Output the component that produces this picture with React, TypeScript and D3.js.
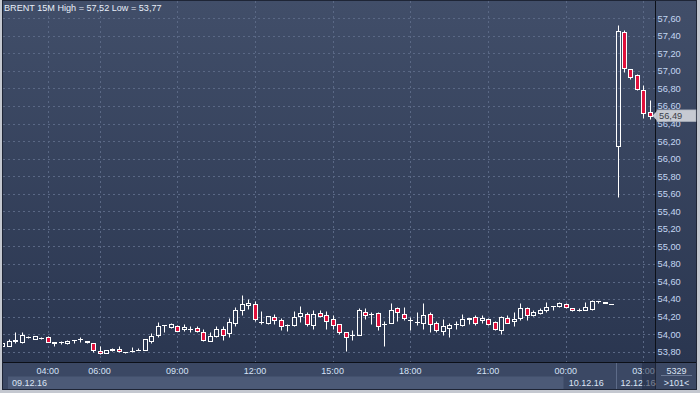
import React from 'react';
import * as d3 from 'd3';

const opens = [53.86,53.87,53.92,53.91,53.97,53.95,53.96,53.97,53.91,53.91,53.90,53.93,53.94,53.92,53.90,53.81,53.79,53.82,53.83,53.80,53.81,53.82,53.82,53.92,53.99,54.10,54.08,54.09,54.06,54.06,54.07,54.02,53.92,53.98,54.06,54.01,54.13,54.28,54.33,54.34,54.14,54.13,54.19,54.16,54.10,54.10,54.21,54.23,54.11,54.24,54.22,54.17,54.12,54.02,53.99,53.99,54.25,54.23,54.24,54.12,54.13,54.30,54.23,54.16,54.14,54.13,54.23,54.13,54.04,54.07,54.12,54.10,54.17,54.19,54.16,54.17,54.14,54.05,54.18,54.15,54.18,54.30,54.22,54.24,54.27,54.32,54.32,54.34,54.30,54.28,54.28,54.29,54.38,54.37,54.34,56.14,57.44,57.02,56.95,56.78,56.53];
const highs = [53.91,53.94,54.02,54.02,53.98,53.98,53.97,53.98,53.91,53.92,53.93,53.93,53.97,53.92,53.90,53.86,53.82,53.84,53.86,53.80,53.85,53.84,53.94,54.01,54.14,54.11,54.13,54.10,54.12,54.09,54.09,54.06,54.02,54.09,54.09,54.18,54.31,54.45,54.40,54.38,54.26,54.21,54.23,54.18,54.12,54.26,54.32,54.25,54.28,54.28,54.26,54.22,54.12,54.02,54.05,54.30,54.30,54.25,54.25,54.15,54.35,54.31,54.31,54.19,54.25,54.35,54.25,54.15,54.17,54.13,54.15,54.23,54.18,54.22,54.22,54.18,54.15,54.21,54.22,54.25,54.36,54.31,54.28,54.30,54.37,54.32,54.37,54.35,54.30,54.30,54.37,54.39,54.38,54.37,54.34,57.52,57.47,57.02,56.97,56.84,56.67];
const lows = [53.85,53.86,53.90,53.90,53.96,53.95,53.95,53.91,53.86,53.89,53.89,53.90,53.91,53.90,53.80,53.77,53.79,53.81,53.80,53.78,53.80,53.82,53.82,53.90,53.97,54.03,54.07,54.04,54.04,54.03,54.03,53.92,53.92,53.97,53.93,53.97,54.09,54.22,54.29,54.15,54.12,54.12,54.12,54.05,54.04,54.09,54.14,54.09,54.06,54.19,54.06,54.06,54.00,53.81,53.93,53.99,54.17,54.12,54.05,53.87,54.13,54.15,54.16,54.05,54.11,54.06,54.02,54.02,53.99,53.97,54.06,54.09,54.12,54.10,54.13,54.10,54.05,54.00,54.13,54.09,54.16,54.16,54.21,54.23,54.25,54.27,54.31,54.30,54.26,54.26,54.28,54.28,54.35,54.35,54.34,55.56,56.99,56.91,56.78,56.46,56.45];
const closes = [53.90,53.92,53.93,53.99,53.97,53.98,53.96,53.91,53.90,53.91,53.92,53.93,53.95,53.91,53.82,53.78,53.82,53.83,53.81,53.80,53.81,53.82,53.94,53.98,54.09,54.10,54.12,54.04,54.08,54.06,54.04,53.93,53.98,54.06,53.99,54.14,54.28,54.34,54.36,54.17,54.14,54.21,54.16,54.09,54.10,54.19,54.24,54.12,54.23,54.21,54.15,54.11,54.02,53.97,53.99,54.28,54.22,54.23,54.09,54.12,54.28,54.25,54.18,54.16,54.14,54.22,54.12,54.05,54.09,54.11,54.12,54.17,54.18,54.13,54.18,54.12,54.06,54.19,54.13,54.17,54.30,54.22,54.25,54.28,54.31,54.32,54.35,54.31,54.28,54.28,54.31,54.38,54.38,54.35,54.34,57.45,57.03,56.93,56.79,56.52,56.49];

const priceTicks = [53.8,54.0,54.2,54.4,54.6,54.8,55.0,55.2,55.4,55.6,55.8,56.0,56.2,56.4,56.6,56.8,57.0,57.2,57.4,57.6];
const timeTickIdx = [7,15,27,39,51,63,75,87,99];
const timeTickLabels = ['04:00','06:00','09:00','12:00','15:00','18:00','21:00','00:00','03:00'];
const dateIdx = [0,87,95];
const dateLabels = ['09.12.16','10.12.16','12.12.16'];
const lastPrice = 56.49;
const titleText = 'BRENT 15M High = 57,52 Low = 53,77';
const barCountText = '5329';
const zoomText = '>101<';

const FONT = '"Liberation Sans", Arial, sans-serif';

export default function App() {
  const x = d3.scaleLinear().domain([0, 100]).range([2.4, 649.9]);
  const y = d3.scaleLinear().domain([53.8, 57.6]).range([351.7, 18.3]);
  const fmt = (v: number) => d3.format('.2f')(v).replace('.', ',');
  const px = (v: number) => Math.round(v) + 0.5;

  const candles = opens.map((o, i) => {
    const h = highs[i], l = lows[i], c = closes[i];
    const cx = px(x(i));
    const top = px(Math.min(y(o), y(c)));
    const bot = px(Math.max(y(o), y(c)));
    const yh = px(y(h));
    const yl = px(y(l));
    const bull = c >= o;
    return (
      <g key={i}>
        {yh < top && <line x1={cx} x2={cx} y1={yh} y2={top} stroke="#fff" strokeWidth={1} />}
        {yl > bot && <line x1={cx} x2={cx} y1={bot} y2={yl} stroke="#fff" strokeWidth={1} />}
        {bot - top < 1 ? (
          <line x1={cx - 2.5} x2={cx + 2.5} y1={top} y2={top} stroke="#fff" strokeWidth={1} />
        ) : (
          <rect x={cx - 2} y={top} width={4} height={bot - top}
            fill={bull ? 'none' : '#e0103c'} stroke="#fff" strokeWidth={1} />
        )}
      </g>
    );
  });

  const yLast = y(lastPrice);

  return (
    <div style={{ position: 'fixed', left: 0, top: 0 }}>
      <svg width={700} height={393} style={{ display: 'block' }} fontFamily={FONT}>
        <defs>
          <linearGradient id="bg" x1="0" y1="0" x2="0" y2="1">
            <stop offset="0" stopColor="#414e69" />
            <stop offset="1" stopColor="#2a3650" />
          </linearGradient>
          <clipPath id="plotClip">
            <rect x={3} y={1} width={652} height={361} />
          </clipPath>
        </defs>
        <rect x={0} y={0} width={700} height={393} fill="#c4c8d0" />
        <rect x={2} y={0} width={695} height={390} fill="#1e2536" />
        <rect x={3} y={1} width={693} height={361} fill="url(#bg)" />

        {/* grid */}
        <g stroke="#5a6885" strokeWidth={1} strokeDasharray="2,3">
          {priceTicks.map((t) => (
            <line key={'h' + t} x1={3} x2={655} y1={px(y(t))} y2={px(y(t))} />
          ))}
          {timeTickIdx.map((t) => (
            <line key={'v' + t} x1={px(x(t))} x2={px(x(t))} y1={1} y2={362} />
          ))}
        </g>

        <g clipPath="url(#plotClip)">{candles}</g>

        {/* plot borders */}
        <line x1={655.5} x2={655.5} y1={1} y2={362} stroke="#0c1018" />
        <line x1={3} x2={696} y1={362.5} y2={362.5} stroke="#0c1018" />

        {/* title */}
        <text x={4} y={11} fontSize={9.1} fill="#e8eef8">{titleText}</text>

        {/* right axis labels */}
        {priceTicks.map((t) => (
          <text key={'yl' + t} x={657.5} y={y(t) + 3.4} fontSize={9.3} fill="#c3d6f2">{fmt(t)}</text>
        ))}

        {/* last price marker */}
        <polygon points={`652.5,${yLast} 657.5,${yLast - 5.5} 657.5,${yLast + 5.5}`} fill="#c6cad2" />
        <rect x={657} y={yLast - 5.8} width={39} height={11.8} fill="#c6cad2" stroke="#a4aab6" strokeWidth={0.6} />
        <text x={659} y={yLast + 3.4} fontSize={9.3} fill="#3a3e48">{fmt(lastPrice)}</text>

        {/* bottom axis area */}
        <rect x={3} y={363} width={652} height={26} fill="#3b4864" />
        <rect x={8} y={376.5} width={px(x(87)) - 11} height={12.5} fill="#4c5a77" />
        <line x1={616.5} x2={616.5} y1={363} y2={389} stroke="#5d6b88" />
        {timeTickIdx.map((t, i) => (
          <text key={'tl' + t} x={x(t)} y={374.3} fontSize={9} fill="#d6e2f6" textAnchor="middle">{timeTickLabels[i]}</text>
        ))}
        {dateIdx.map((t, i) => (
          <text key={'dl' + t} x={Math.max(x(t) + 3, 12)} y={386} fontSize={9} fill="#dbe4f4">{dateLabels[i]}</text>
        ))}
        <rect x={642} y={363} width={13} height={26} fill="#222c44" opacity={0.55} />

        {/* corner box */}
        <rect x={656} y={363} width={40} height={26} fill="#3b4864" />
        <text x={676.5} y={373.5} fontSize={9} fill="#dbe4f4" textAnchor="middle">{barCountText}</text>
        <line x1={661} x2={692} y1={375.5} y2={375.5} stroke="#6a7894" />
        <text x={676.5} y={386} fontSize={9} fill="#dbe4f4" textAnchor="middle">{zoomText}</text>
      </svg>
    </div>
  );
}
